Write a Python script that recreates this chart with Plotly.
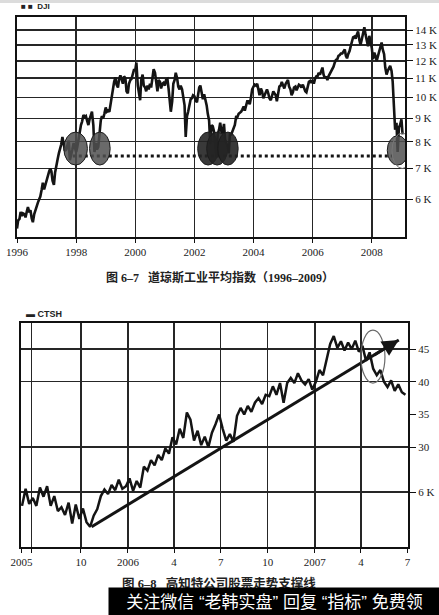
import pandas as pd
import plotly.graph_objects as go

W, H = 439, 615

# ---------------- Data: DJI (semi-monthly, 1996-01 .. 2009-01) ----------------
dji_1996 = [5180, 5395, 5440, 5630, 5520, 5590, 5570, 5480, 5640, 5770, 5620, 5680,
            5450, 5350, 5570, 5680, 5850, 5900, 6000, 6080, 6300, 6520, 6300, 6450]
dji_1997 = [6650, 6800, 6900, 7000, 6900, 6580, 6450, 6850, 7150, 7300, 7550, 7700,
            7900, 8200, 7900, 7650, 7700, 7900, 8050, 7300, 7600, 7700, 7950, 7800]
dji_1998 = [7600, 7800, 8200, 8500, 8700, 8850, 9150, 9050, 9100, 8900, 8700, 8950,
            9200, 9300, 8700, 7600, 7950, 7700, 7800, 8400, 8900, 9100, 9000, 9200]
dji_1999 = [9500, 9300, 9350, 9300, 9700, 9900, 10400, 10800, 11050, 10650, 10500, 10950,
            11150, 10900, 10700, 11100, 11000, 10300, 10200, 10700, 10900, 10950, 11300, 11450]
dji_2000 = [11450, 11900, 10600, 10100, 9850, 10900, 11200, 10600, 10500, 10300, 10600, 10400,
            10700, 10500, 11050, 11500, 11300, 10700, 10300, 10900, 10800, 10450, 10700, 10750]
dji_2001 = [10600, 10900, 10950, 10450, 10000, 9300, 9800, 10700, 10900, 11300, 11000, 10550,
            10400, 10600, 10400, 10000, 9600, 8200, 9100, 9300, 9550, 9900, 9950, 10100]
dji_2002 = [10050, 9850, 9750, 10050, 10500, 10600, 10250, 9900, 10150, 9950, 9600, 9200,
            8900, 7900, 8700, 8650, 8400, 7800, 7400, 8300, 8500, 8800, 8400, 8350]
dji_2003 = [8750, 8050, 7900, 7800, 7550, 8300, 8300, 8450, 8600, 8700, 9100, 9050,
            9200, 9250, 9300, 9400, 9550, 9350, 9650, 9800, 9800, 9650, 10000, 10400]
dji_2004 = [10550, 10650, 10600, 10700, 10400, 10100, 10450, 10300, 9950, 10100, 10300, 10400,
            10200, 9950, 9850, 10100, 10300, 10200, 10100, 9800, 10300, 10550, 10600, 10800]
dji_2005 = [10600, 10450, 10700, 10800, 10900, 10550, 10400, 10100, 10250, 10500, 10550, 10350,
            10500, 10650, 10600, 10500, 10650, 10450, 10300, 10250, 10600, 10800, 10850, 10750]
dji_2006 = [10900, 10700, 11000, 11100, 11100, 11300, 11200, 11400, 11600, 11200, 11000, 11100,
            10900, 11100, 11250, 11350, 11500, 11650, 11900, 12050, 12100, 12300, 12350, 12450]
dji_2007 = [12450, 12600, 12700, 12300, 12150, 12400, 12600, 12900, 13200, 13500, 13550, 13400,
            13700, 13900, 13300, 13000, 13400, 13800, 14200, 13700, 13200, 12900, 13600, 13300]
dji_2008 = [12800, 12100, 12500, 12300, 12000, 12250, 12600, 12850, 13150, 12700, 12400, 11600,
            11200, 11400, 11600, 11700, 11400, 10800, 9500, 8500, 8800, 7600, 8600, 8700]
dji_2009 = [8950, 8300]

dji_values = (dji_1996 + dji_1997 + dji_1998 + dji_1999 + dji_2000 + dji_2001 + dji_2002 +
              dji_2003 + dji_2004 + dji_2005 + dji_2006 + dji_2007 + dji_2008 + dji_2009)
dji_dates = pd.date_range("1996-01-01", periods=len(dji_values), freq="SMS")

dji_support_dates = ["1997-11-20", "2008-09-10"]
dji_support_values = [7450, 7450]

# circles marking the tests of support (date span, value span)
dji_circle_x0 = ["1997-08-01", "1998-06-15", "2002-02-10", "2002-06-01", "2002-10-15", "2008-07-10"]
dji_circle_x1 = ["1998-05-20", "1999-02-25", "2002-10-25", "2003-02-15", "2003-06-25", "2009-03-25"]
dji_circle_lo = [7120, 7120, 7120, 7120, 7120, 7120]
dji_circle_hi = [8400, 8400, 8400, 8400, 8400, 8250]
dji_outline_x = ["2008-09-06", "2009-05-20"]
dji_outline_y = [7000, 8360]

dji_tick_dates = ["1996-01-01", "1998-01-01", "2000-01-01", "2002-01-01",
                  "2004-01-01", "2006-01-01", "2008-01-01"]
dji_tick_text = ["1996", "1998", "2000", "2002", "2004", "2006", "2008"]
dji_y_ticks = [6000, 7000, 8000, 9000, 10000, 11000, 12000, 13000, 14000]
dji_y_text = ["6 K", "7 K", "8 K", "9 K", "10 K", "11 K", "12 K", "13 K", "14 K"]

# ---------------- Data: CTSH (weekly, 2005-06 .. 2007-06) ----------------
ctsh_values = [21.0, 23.6, 21.3, 22.2, 21.0, 23.8, 22.4, 24.0, 21.0, 22.5,
               20.2, 20.8, 19.6, 21.5, 18.3, 21.2, 19.0, 20.6, 18.5, 17.8,
               19.5, 20.5, 22.5, 23.5, 22.8, 24.2, 23.4, 25.0, 23.6, 24.0,
               25.2, 23.3, 24.8, 23.8, 27.0, 26.4, 28.0, 27.2, 28.8, 28.0,
               29.8, 29.0, 31.5, 30.4, 32.8, 31.4, 35.3, 34.2, 31.0, 32.5,
               30.3, 31.6, 30.0, 32.2, 33.5, 35.0, 32.8, 31.0, 32.0, 30.8,
               34.8, 36.0, 35.0, 36.3, 35.4, 36.8, 37.5, 36.6, 38.0, 37.8,
               39.3, 38.0, 39.8, 36.8, 39.8, 40.6, 39.8, 41.3, 40.2, 39.6,
               40.4, 38.8, 40.0, 41.8, 41.0, 43.3, 45.8, 47.0, 45.2, 46.2,
               44.8, 46.0, 45.0, 46.3, 44.6, 45.5, 43.2, 44.5, 42.0, 41.0,
               41.8, 40.0, 39.2, 40.2, 38.6, 39.6, 38.4, 38.0]
ctsh_dates = pd.date_range("2005-06-08", periods=len(ctsh_values), freq="7D")

ctsh_trend_dates = ["2005-10-22", "2007-06-14"]
ctsh_trend_values = [17.8, 46.4]
ctsh_oval_x = ["2007-04-01", "2007-05-18"]
ctsh_oval_y = [39.8, 47.9]

ctsh_tick_dates = ["2005-06-07", "2005-06-27", "2005-10-01", "2006-01-01", "2006-04-01",
                   "2006-07-01", "2006-10-01", "2007-01-01", "2007-04-01", "2007-07-01"]
ctsh_tick_text = ["2005", "", "10", "2006", "4", "7", "10", "2007", "4", "7"]
ctsh_y_ticks = [23.1, 30, 35, 40, 45]
ctsh_y_text = ["6 K", "30", "35", "40", "45"]
ctsh_y_grid = [23.1, 30, 40, 45]

# ---------------- Figure ----------------
INK = "#141414"
GRID = "#262626"
SERIF = "Liberation Serif, Times New Roman, serif"

fig = go.Figure()
fig.add_trace(go.Scatter(x=dji_dates, y=dji_values, mode="lines",
                         line=dict(color=INK, width=2.6), xaxis="x", yaxis="y",
                         showlegend=False, hoverinfo="skip"))
fig.add_trace(go.Scatter(x=dji_support_dates, y=dji_support_values, mode="lines",
                         line=dict(color=INK, width=3, dash="dot"), xaxis="x", yaxis="y",
                         showlegend=False, hoverinfo="skip"))
fig.add_trace(go.Scatter(x=ctsh_dates, y=ctsh_values, mode="lines",
                         line=dict(color=INK, width=2.5), xaxis="x2", yaxis="y2",
                         showlegend=False, hoverinfo="skip"))
fig.add_trace(go.Scatter(x=ctsh_trend_dates, y=ctsh_trend_values, mode="lines",
                         line=dict(color=INK, width=3), xaxis="x2", yaxis="y2",
                         showlegend=False, hoverinfo="skip"))

shapes = []
for i in range(len(dji_circle_x0)):
    dark = 2 <= i <= 4
    shapes.append(dict(type="circle", xref="x", yref="y", layer="above",
                       x0=dji_circle_x0[i], x1=dji_circle_x1[i],
                       y0=dji_circle_lo[i], y1=dji_circle_hi[i],
                       fillcolor="rgba(35,35,35,0.9)" if dark else "rgba(80,80,80,0.85)",
                       line=dict(color="#1c1c1c", width=1)))
shapes.append(dict(type="circle", xref="x", yref="y", layer="above",
                   x0=dji_outline_x[0], x1=dji_outline_x[1],
                   y0=dji_outline_y[0], y1=dji_outline_y[1],
                   line=dict(color="#777777", width=1)))
shapes.append(dict(type="circle", xref="x2", yref="y2", layer="above",
                   x0=ctsh_oval_x[0], x1=ctsh_oval_x[1],
                   y0=ctsh_oval_y[0], y1=ctsh_oval_y[1],
                   line=dict(color="#6a6a6a", width=1.2)))
# faint scan edge at top
shapes.append(dict(type="rect", xref="paper", yref="paper", x0=0, x1=1,
                   y0=1 - 3 / H, y1=1, fillcolor="#dcdcdc", line=dict(width=0), layer="below"))


def px(x):
    return x / W


def py(y):
    return 1 - y / H


axis_common = dict(showline=True, linecolor="#111111", linewidth=2, mirror=True,
                   showgrid=True, gridcolor=GRID, gridwidth=1.4, zeroline=False,
                   automargin=False,
                   ticks="outside", tickcolor="#111111",
                   tickfont=dict(family=SERIF, size=11, color="#222222"))

fig.update_layout(
    width=W, height=H, margin=dict(l=0, r=0, t=0, b=0, pad=0, autoexpand=False),
    paper_bgcolor="white", plot_bgcolor="white", showlegend=False,
    shapes=shapes,
    xaxis=dict(axis_common, domain=[px(17), px(405)], anchor="y", type="date",
               range=["1996-01-01", "2009-02-14"], tickmode="array",
               tickvals=dji_tick_dates, ticktext=dji_tick_text, ticklen=4),
    yaxis=dict(axis_common, domain=[py(237), py(17)], anchor="x", type="log", side="right",
               range=[3.6961, 4.1744], tickmode="array",
               tickvals=dji_y_ticks, ticktext=dji_y_text, ticklen=6),
    xaxis2=dict(axis_common, domain=[px(21), px(408)], anchor="y2", type="date",
                range=["2005-06-06", "2007-07-02"], tickmode="array",
                tickvals=ctsh_tick_dates, ticktext=ctsh_tick_text, ticklen=4),
    yaxis2=dict(axis_common, domain=[py(547), py(323)], anchor="x2", side="right",
                range=[14.7, 49.0], tickmode="array", showgrid=False,
                tickvals=ctsh_y_ticks, ticktext=ctsh_y_text, ticklen=6,
                minor=dict(tickmode="array", tickvals=ctsh_y_grid, showgrid=True,
                           gridcolor=GRID, gridwidth=1.4, ticks="")),
)

annotations = [
    # legends
    dict(x=px(19), y=py(7), xref="paper", yref="paper", xanchor="left", yanchor="middle",
         text="<b>■ ■  DJI</b>", showarrow=False,
         font=dict(family="Liberation Sans, Arial", size=8, color="#222")),
    dict(x=px(24), y=py(314), xref="paper", yref="paper", xanchor="left", yanchor="middle",
         text="<b>▬ CTSH</b>", showarrow=False,
         font=dict(family="Liberation Sans Narrow, Liberation Sans, Arial", size=9, color="#222")),
    # arrow head of the trend line
    dict(x=ctsh_trend_dates[1], y=ctsh_trend_values[1], xref="x2", yref="y2",
         ax=-26, ay=16, axref="pixel", ayref="pixel", showarrow=True,
         arrowhead=2, arrowsize=1.1, arrowwidth=3, arrowcolor=INK, text="", standoff=0),
    # captions
    dict(x=px(220), y=py(277), xref="paper", yref="paper", xanchor="center", yanchor="middle",
         text="<b>图 6–7   道琼斯工业平均指数（1996–2009）</b>", showarrow=False,
         font=dict(family="Liberation Serif, Noto Sans CJK SC", size=12, color="#222")),
    dict(x=px(219), y=py(583), xref="paper", yref="paper", xanchor="center", yanchor="middle",
         text="<b>图 6–8   高知特公司股票走势支撑线</b>", showarrow=False,
         font=dict(family="Liberation Serif, Noto Sans CJK SC", size=12.5, color="#222")),
    # banner (drawn last, covers lower part of caption)
    dict(x=px(108), y=py(587), xref="paper", yref="paper", xanchor="left", yanchor="top",
         text="关注微信 “老韩实盘” 回复 “指标” 免费领", showarrow=False,
         width=331, height=28, bgcolor="#000000", borderpad=0, align="center",
         font=dict(family="Liberation Sans, Noto Sans CJK SC", size=17, color="white")),
]
fig.update_layout(annotations=annotations)

fig.write_html("out.html",
               config={"displayModeBar": False, "staticPlot": True},
               post_script="document.body.style.margin='0';document.body.style.padding='0';"
                           "document.documentElement.style.overflow='hidden';")
